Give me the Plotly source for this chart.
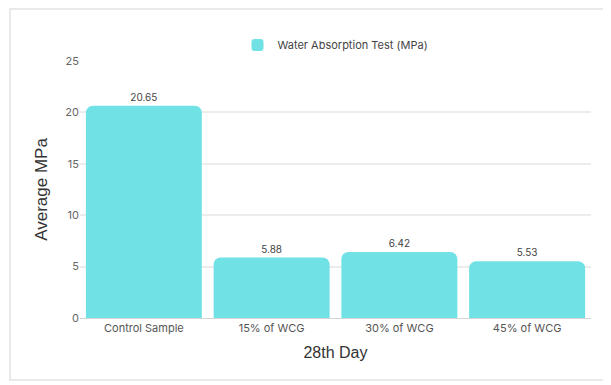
import plotly.graph_objects as go

categories = ["Control Sample", "15% of WCG", "30% of WCG", "45% of WCG"]
values = [20.65, 5.88, 6.42, 5.53]
value_labels = ["20.65", "5.88", "6.42", "5.53"]
series_name = "Water Absorption Test (MPa)"
y_ticks = [0, 5, 10, 15, 20, 25]

fig = go.Figure()
fig.add_trace(go.Bar(
    x=categories, y=values, name=series_name,
    marker=dict(color="#70e2e5", cornerradius=7, line=dict(width=0)),
    text=value_labels, textposition="outside",
    textfont=dict(size=10, color="#444444", family="Inter, Open Sans, sans-serif"),
    cliponaxis=False,
))

fig.update_layout(
    width=603, height=377,
    margin=dict(l=72, r=20, t=53, b=67, autoexpand=False),
    paper_bgcolor="white", plot_bgcolor="white",
    bargap=0.092,
    showlegend=True,
    legend=dict(orientation="h", x=0.5, xanchor="center", y=1.062, yanchor="middle",
                font=dict(size=11, color="#444444", family="Inter, Open Sans, sans-serif"),
                bgcolor="rgba(0,0,0,0)"),
    font=dict(family="Inter, Open Sans, sans-serif"),
    shapes=[dict(type="rect", xref="paper", yref="paper", x0=-0.137, x1=1.2, y0=-0.241, y1=1.202,
                 line=dict(color="#e2e2e2", width=1.5), fillcolor="rgba(0,0,0,0)", layer="below")],
)
fig.update_xaxes(
    showgrid=False, showline=True, linecolor="#d6d6d6", linewidth=1,
    tickfont=dict(size=11, color="#555555"),
    title=dict(text="28th Day", font=dict(size=16, color="#333333", family="Liberation Sans, Arial, sans-serif"), standoff=12),
)
fig.update_yaxes(
    range=[0, 25], tickvals=y_ticks, showgrid=True, gridcolor="#ececec", gridwidth=1.5,
    zeroline=False, showline=False,
    tickfont=dict(size=11, color="#666666"), ticklen=0, ticks="",
    title=dict(text="Average MPa", font=dict(size=17, color="#333333", family="Liberation Sans, Arial, sans-serif"), standoff=13),
)

fig.write_html("out.html")
